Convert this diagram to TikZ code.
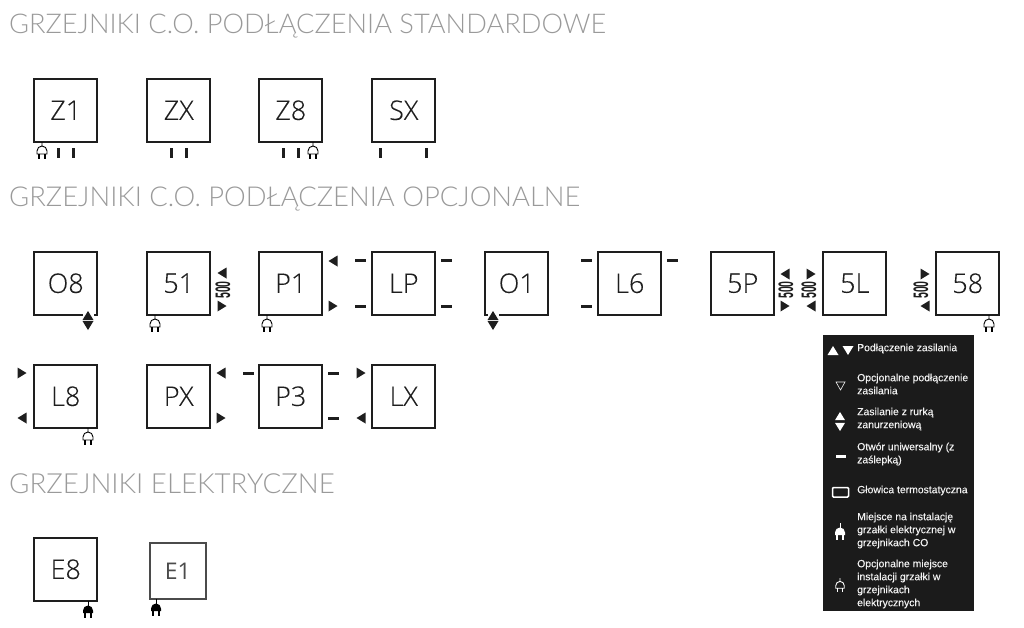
\documentclass[tikz,border=0pt]{standalone}
\usepackage{fontspec}
\setmainfont[FakeBold=0.15]{Open Sans Light}
\newfontfamily\headfont{Lato Light}
\newfontfamily\legendfont[FakeBold=0.25]{Liberation Sans}
\newfontfamily\fivefont{Liberation Sans}
\newfontfamily\eonefont{Open Sans}
\definecolor{headgray}{HTML}{9A9A9A}
\definecolor{framedark}{HTML}{1E1E1E}
\definecolor{legendbg}{HTML}{1B1B1B}
\definecolor{legendtext}{HTML}{F2F2F2}
\tikzset{
  heading/.style={anchor=west, inner sep=0pt, text=headgray, font=\headfont\fontsize{27.4}{27}\selectfont},
  rad/.style={draw=framedark, line width=2pt, minimum size=62.5pt, inner sep=0pt, anchor=north west, text=framedark, font=\fontsize{27}{27}\selectfont},
  five/.style={rotate=90, inner sep=0pt, text=framedark, font=\fivefont\bfseries\fontsize{21}{21}\selectfont},
  legendnote/.style={anchor=west, inner sep=0pt, align=left, text=legendtext, font=\legendfont\fontsize{10.4}{13}\selectfont},
  triright/.pic={\fill[framedark] (4.5,0)--(-4.5,-5.5)--(-4.5,5.5)--cycle;},
  trileft/.pic={\fill[framedark] (-4.5,0)--(4.5,-5.5)--(4.5,5.5)--cycle;},
  triup/.pic={\fill (0,-4.5)--(-5.5,4.5)--(5.5,4.5)--cycle;},
  tridown/.pic={\fill (0,4.5)--(-5.5,-4.5)--(5.5,-4.5)--cycle;},
  dashh/.pic={\fill[framedark] (-5.5,-1.5) rectangle (5.5,1.5);},
  dashv/.pic={\fill[framedark] (-1.5,-5) rectangle (1.5,5);},
  plugopen/.pic={
    \draw[line width=.9pt] (0,0)--(0,4) (-5,12)--(-5,9) arc[start angle=180, end angle=360, radius=5]--(5,12)--cycle;
    \draw[line width=1.1pt] (-3,12)--(-3,17) (3,12)--(3,17);
  },
  plugfull/.pic={
    \draw[line width=.9pt] (0,0)--(0,5);
    \fill (-5,12)--(-5,9.5) arc[start angle=180, end angle=360, radius=5]--(5,12)--cycle;
    \draw[line width=1.2pt] (-3,12)--(-3,17) (3,12)--(3,17);
  }
}
\begin{document}
\begin{tikzpicture}[x=1pt,y=-1pt]
\useasboundingbox (0,0) rectangle (1024,627);
\node[heading, font=\headfont\fontsize{27.2}{27}\selectfont] (headstd) at (9,26) {GRZEJNIKI C.O. PODŁĄCZENIA STANDARDOWE};
\node[heading] (headopt) at (9,199) {GRZEJNIKI C.O. PODŁĄCZENIA OPCJONALNE};
\node[heading, font=\headfont\fontsize{27.7}{27}\selectfont] (headel) at (9,484) {GRZEJNIKI ELEKTRYCZNE};
\foreach \name/\x/\y in {Z1/33/78,ZX/146/78,Z8/258/78,SX/371/78,
  O8/33/251,51/146/251,P1/258/251,LP/371/251,O1/484/251,L6/597/251,5P/710/251,5L/822/251,58/935/251,
  L8/33/364,PX/146/364,P3/258/364,LX/371/364,E8/33/537}{
  \node[rad] (\name) at (\x,\y) {\kern1pt\raisebox{-1pt}{\name}};
}
\node[rad, draw=framedark!80, line width=2.6pt, minimum size=56pt, text=framedark!80, font=\eonefont\fontsize{23}{23}\selectfont] (E1) at (148.5,541.5) {E1};
\foreach \x in {58,73,171,186,283,298,380,426}{
  \pic at (\x,153) {dashv};
}
\foreach \x/\y in {360/260,360/306,446.5/260,446.5/306,586/260,586/306,672/260,248/373,333.5/373,333.5/418}{
  \pic at (\x,\y) {dashh};
}
\foreach \x/\y in {222/306,333/306,785/306,22/373,221/418,361/373,811/274,925/274}{
  \pic at (\x,\y) {triright};
}
\foreach \x/\y in {222/273,333/261,785/274,22/418,221/373,361/418,811/306,925/306}{
  \pic at (\x,\y) {trileft};
}
\foreach \x/\y in {42/142,155/315,267/315,88/428,313/142,989/315}{
  \pic at (\x,\y) {plugopen};
}
\pic at (88,601) {plugfull};
\pic[black] at (156,599) {plugfull};
\foreach \name/\x/\y in {a/223/290,b/786/290,c/809/290,d/921/290}{
  \node[five] (five\name) at (\x,\y) {\scalebox{.5}[1]{500}};
}
\fill[white] (82.5,310) rectangle (93.5,320);
\fill[white] (487.5,310) rectangle (498.5,320);
\foreach \x in {88,493}{
  \pic[framedark] at (\x,315.5) {triup};
  \pic[framedark] at (\x,325.5) {tridown};
}
\fill[legendbg] (823,335) rectangle (974,611);
\begin{scope}[white]
\pic at (833,350.5) {triup};
\pic at (848,350.5) {tridown};
\draw[legendtext, line width=.6pt] (836,382)--(845,382)--(840.5,390)--cycle;
\pic[scale=.9] at (840,416) {triup};
\pic[scale=.9] at (840,427) {tridown};
\fill (835.5,454.5) rectangle (845.5,457.5);
\draw[line width=1.5pt, rounded corners=1pt] (832.5,487.5) rectangle (848.5,497);
\pic[scale=1] at (840,523) {plugfull};
\pic[scale=.85] at (840,578) {plugopen};
\end{scope}
\node[legendnote] (notea) at (857,348.5) {Podłączenie zasilania};
\node[legendnote] (noteb) at (857,384) {Opcjonalne podłączenie\\zasilania};
\node[legendnote] (notec) at (857,419) {Zasilanie z rurką\\zanurzeniową};
\node[legendnote] (noted) at (857,454) {Otwór uniwersalny (z\\zaślepką)};
\node[legendnote] (notee) at (857,490.5) {Głowica termostatyczna};
\node[legendnote] (notef) at (857,530.5) {Miejsce na instalację\\grzałki elektrycznej w\\grzejnikach CO};
\node[legendnote] (noteg) at (857,584) {Opcjonalne miejsce\\instalacji grzałki w\\grzejnikach\\elektrycznych};
\end{tikzpicture}
\end{document}
